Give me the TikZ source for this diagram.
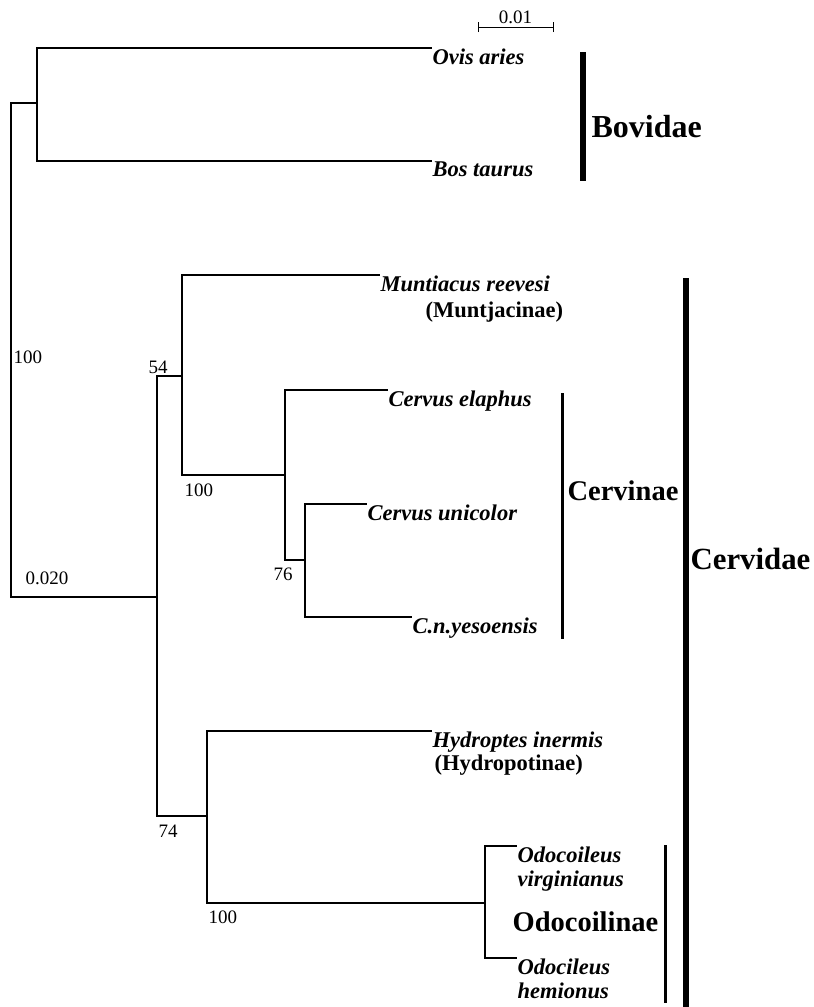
\documentclass[tikz,border=0pt]{standalone}
\usepackage{fontspec}
\setmainfont{Liberation Serif}
\begin{document}
\begin{tikzpicture}[x=1pt, y=-1pt, line width=1.2pt,
  leaf/.style={anchor=north west, inner sep=0pt, align=left,
    font=\fontsize{22.5}{24}\selectfont\bfseries\itshape},
  subfam/.style={anchor=north west, inner sep=0pt,
    font=\fontsize{22.5}{24}\selectfont\bfseries},
  clade/.style={anchor=west, inner sep=0pt,
    font=\fontsize{#1}{32}\selectfont\bfseries},
  boot/.style={anchor=base west, inner sep=0pt,
    font=\fontsize{19}{21}\selectfont},
  thickbar/.style={line width=6pt},
  thinbar/.style={line width=3pt}]
\useasboundingbox (0,0) rectangle (814,1007);

% inner nodes of the tree
\coordinate (root) at (11,350);
\coordinate (bov) at (37,103);
\coordinate (cerv) at (157,597);
\coordinate (n54) at (182,376);
\coordinate (n100a) at (285,475);
\coordinate (n76) at (305,560);
\coordinate (n74) at (207,816);
\coordinate (n100b) at (485,903);

% leaves
\node[leaf] (ovis) at (432,48) {Ovis aries};
\node[leaf] (bos) at (432,161) {Bos taurus};
\node[leaf] (munt) at (380,275) {Muntiacus reevesi};
\node[leaf] (elaph) at (388,390) {Cervus elaphus};
\node[leaf] (unic) at (367,504) {Cervus unicolor};
\node[leaf] (yeso) at (412,617) {C.n.yesoensis};
\node[leaf] (hydro) at (432,731) {Hydroptes inermis};
\node[leaf] (virg) at (517,846) {Odocoileus\\virginianus};
\node[leaf] (hemi) at (517,958) {Odocileus\\hemionus};

\node[subfam] (muntsub) at (425,301) {(Muntjacinae)};
\node[subfam] (hydrosub) at (434,754) {(Hydropotinae)};

% branches
\foreach \a/\b in {root/bov, root/cerv, cerv/n54, cerv/n74, n54/n100a, n100a/n76, n74/n100b}
  \draw (\a) |- (\b);
\foreach \a/\b in {bov/ovis, bov/bos, n54/munt, n100a/elaph, n76/unic, n76/yeso, n74/hydro, n100b/virg, n100b/hemi}
  \draw (\a) |- (\b.north west);

% bootstrap values and branch length
\foreach \x/\y/\t [count=\i] in {13/363/100, 25/584/0.020, 148/373/54, 184/496/100, 273/580/76, 158/837/74, 208/923/100}
  \node[boot] (bs\i) at (\x,\y) {\t};

% scale bar
\coordinate (sl) at (478,27);
\coordinate (sr) at (553,27);
\draw[line width=1pt] (sl) -- (sr);
\draw[line width=1pt] ([yshift=-5pt]sl) -- ([yshift=5pt]sl);
\draw[line width=1pt] ([yshift=-5pt]sr) -- ([yshift=5pt]sr);
\node[boot, anchor=base] (scale) at (515.5,23) {0.01};

% taxon bars
\draw[thickbar] (583,52) -- (583,181);
\node[clade=32] (bovidae) at (591,127) {Bovidae};
\draw[thinbar] (562,393) -- (562,639);
\node[clade=28.5] (cervinae) at (567,491) {Cervinae};
\draw[thickbar] (686,278) -- (686,1007);
\node[clade=30.8] (cervidae) at (690,559) {Cervidae};
\draw[thinbar] (665,845) -- (665,1003);
\node[clade=28.5] (odocoil) at (512,922) {Odocoilinae};

\end{tikzpicture}
\end{document}
